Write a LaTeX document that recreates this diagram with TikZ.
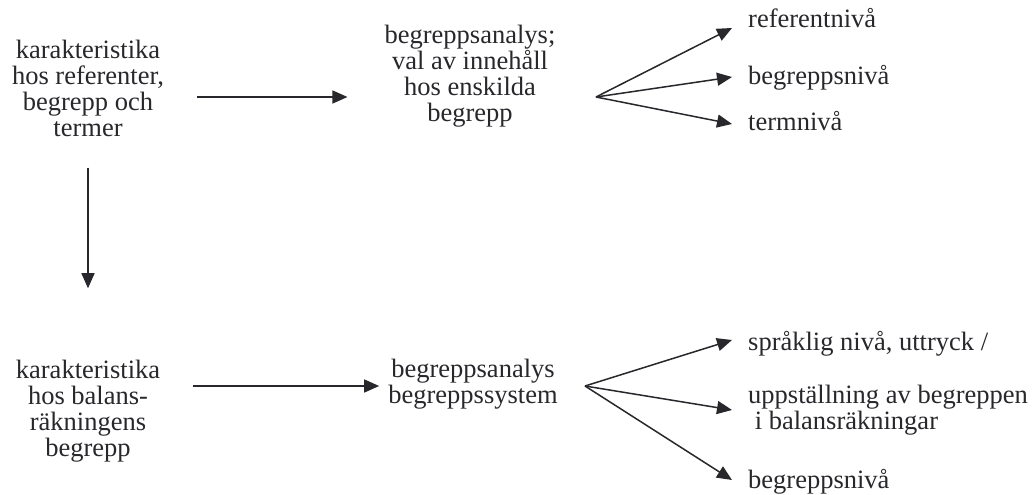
\documentclass[tikz,border=0pt]{standalone}
\usepackage{fontspec}
\setmainfont{Liberation Serif}
\usetikzlibrary{arrows.meta}
\definecolor{ink}{RGB}{40,40,44}
\begin{document}
\begin{tikzpicture}[x=1pt,y=-1pt,
  txt/.style={inner sep=0pt, text=ink, font=\fontsize{26.5}{26}\selectfont},
  mid/.style={txt, align=center},
  lab/.style={txt, anchor=west, align=left},
  arr/.style={draw=ink, line width=1.5pt, -{Triangle[length=15pt,width=13pt]}}]
\useasboundingbox (0,0) rectangle (1034,495);

% upper row
\node[mid] (A) at (88,88) {karakteristika\\hos referenter,\\begrepp och\\termer};
\node[mid] (B) at (470,76.5) {begreppsanalys;\\val av innehåll\\hos enskilda\\begrepp};
\coordinate (fanT) at (596,97);
\node[lab] (t1) at (748,18) {referentnivå};
\node[lab] (t2) at (748,78) {begreppsnivå};
\node[lab] (t3) at (748,121) {termnivå};

% lower row
\node[mid] (C) at (88,411.5) {karakteristika\\hos balans-\\räkningens\\begrepp};
\node[mid] (D) at (473,384) {begreppsanalys\\begreppssystem};
\coordinate (fanB) at (585,386);
\node[lab] (b1) at (748,344) {språklig nivå, uttryck /};
\node[lab] (b2) at (748,410) {uppställning av begreppen\\\hspace{0.25em}i balansräkningar};
\node[lab] (b3) at (748,482) {begreppsnivå};

% connectors
\draw[arr] ([xshift=33pt]A.east |- fanT) -- ([xshift=-37pt]B.west |- fanT);
\draw[arr] ([xshift=33pt]C.east |- fanB) -- ([xshift=-9pt]D.west |- fanB);
\draw[arr, shorten <=31pt, shorten >=72pt] (A.south) -- (C.north);

\draw[arr] (fanT) -- ([xshift=-16pt,yshift=-10pt]t1.west);
\draw[arr] (fanT) -- ([xshift=-16pt,yshift=1pt]t2.west);
\draw[arr] (fanT) -- ([xshift=-16pt,yshift=-3pt]t3.west);

\draw[arr] (fanB) -- ([xshift=-16pt,yshift=4pt]b1.west);
\draw[arr] (fanB) -- ([xshift=-16pt,yshift=0pt]b2.west);
\draw[arr] (fanB) -- ([xshift=-16pt,yshift=2pt]b3.west);
\end{tikzpicture}
\end{document}
